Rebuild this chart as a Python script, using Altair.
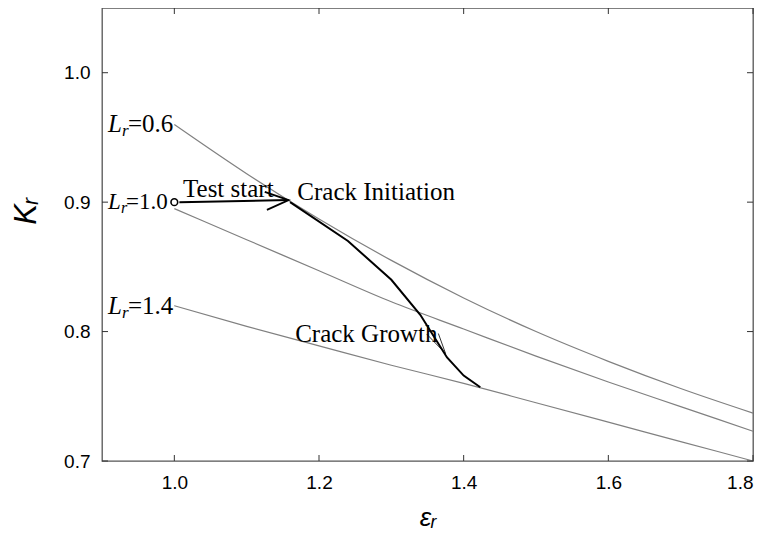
import altair as alt
import pandas as pd

# ---- data ----
x_grid = [1.0, 1.1, 1.2, 1.3, 1.4, 1.5, 1.6, 1.7, 1.8]
lr_06 = [0.960, 0.922, 0.887, 0.855, 0.826, 0.800, 0.777, 0.756, 0.737]
lr_10 = [0.895, 0.871, 0.847, 0.823, 0.802, 0.781, 0.761, 0.742, 0.723]
lr_14 = [0.820, 0.804, 0.789, 0.774, 0.760, 0.745, 0.730, 0.715, 0.700]

path_x = [1.16, 1.24, 1.30, 1.34, 1.377, 1.40, 1.423]
path_y = [0.900, 0.870, 0.840, 0.813, 0.780, 0.766, 0.757]

start_x = [1.0]
start_y = [0.9]
arrow_x = [1.007, 1.158]
arrow_y = [0.900, 0.9016]
head_x = [1.125, 1.158, 1.128]
head_y = [0.908, 0.9016, 0.894]
growth_head_x = [1.349, 1.375, 1.365]
growth_head_y = [0.798, 0.783, 0.7985]

curve_labels_a = ["=0.6", "=1.4"]
curve_label_y_a = [0.960, 0.820]
curve_labels_b = ["=1.0"]
curve_label_y_b = [0.900]

notes = ["Test start", "Crack Initiation", "Crack Growth"]
notes_x = [1.012, 1.170, 1.167]
notes_y = [0.910, 0.908, 0.798]

x_ticks = [1.0, 1.2, 1.4, 1.6, 1.8]
y_ticks = [0.7, 0.8, 0.9, 1.0]

W, H = 651, 453

curves = pd.DataFrame(
    [{"x": x, "y": y, "curve": name}
     for name, ys in (("0.6", lr_06), ("1.0", lr_10), ("1.4", lr_14))
     for x, y in zip(x_grid, ys)]
)
path = pd.DataFrame({"x": path_x, "y": path_y, "o": range(len(path_x))})
arrow = pd.DataFrame({"x": arrow_x, "y": arrow_y, "o": range(len(arrow_x))})
head = pd.DataFrame({"x": head_x, "y": head_y, "o": range(len(head_x))})
ghead = pd.DataFrame({"x": growth_head_x, "y": growth_head_y, "o": range(3)})
start = pd.DataFrame({"x": start_x, "y": start_y})
lab_a = pd.DataFrame({"t": curve_labels_a, "y": curve_label_y_a, "x": [0.9] * 2})
lab_b = pd.DataFrame({"t": curve_labels_b, "y": curve_label_y_b, "x": [0.9]})
nt = pd.DataFrame({"t": notes, "x": notes_x, "y": notes_y})
xt = pd.DataFrame({"v": x_ticks})
yt = pd.DataFrame({"v": y_ticks})

xs = alt.Scale(domain=[0.9, 1.8], nice=False, zero=False)
ys = alt.Scale(domain=[0.7, 1.05], nice=False, zero=False)

X = alt.X("x:Q", scale=xs, axis=alt.Axis(
    values=x_ticks, format=".1f", title="εᵣ", ticks=False, domain=False, grid=False,
    labelFont="Liberation Sans", labelFontSize=19, labelColor="black", labelPadding=12,
    titleFont="Liberation Sans", titleFontSize=26, titleFontStyle="italic",
    titleFontWeight="normal", titleColor="black", titleX=W / 2, titleY=56,
    titleBaseline="middle", titleAlign="center"))
Y = alt.Y("y:Q", scale=ys, axis=alt.Axis(
    values=y_ticks, format=".1f", title="Kᵣ", ticks=False, domain=False, grid=False,
    labelFont="Liberation Sans", labelFontSize=19, labelColor="black", labelPadding=12,
    titleFont="Liberation Sans", titleFontSize=31, titleFontStyle="italic",
    titleFontWeight="normal", titleColor="black", titleX=-76, titleY=203,
    titleBaseline="middle", titleAlign="center", titleAngle=270))

xq = alt.X("x:Q", scale=xs)
yq = alt.Y("y:Q", scale=ys)

base_curves = alt.Chart(curves).mark_line(color="#808080", strokeWidth=1.2, interpolate="monotone").encode(
    x=X, y=Y, detail="curve:N")
path_l = alt.Chart(path).mark_line(color="black", strokeWidth=2).encode(x=xq, y=yq, order="o:Q")
arrow_l = alt.Chart(arrow).mark_line(color="black", strokeWidth=2).encode(x=xq, y=yq, order="o:Q")
head_l = alt.Chart(head).mark_line(color="black", strokeWidth=1.8).encode(x=xq, y=yq, order="o:Q")
ghead_l = alt.Chart(ghead).mark_line(color="black", strokeWidth=0.8).encode(x=xq, y=yq, order="o:Q")
start_p = alt.Chart(start).mark_point(shape="circle", size=45, filled=True, fill="white",
                                      stroke="black", strokeWidth=1.6, opacity=1).encode(x=xq, y=yq)

serif = "Liberation Serif"


def curve_label(df, size, dx0):
    L = alt.Chart(df).mark_text(text="L", font=serif, fontSize=size, fontStyle="italic",
                                align="left", baseline="middle", dx=dx0, color="black").encode(x=xq, y=yq)
    r = alt.Chart(df).mark_text(text="r", font=serif, fontSize=round(size * 0.68), fontStyle="italic",
                                align="left", baseline="middle", dx=dx0 + round(size * 0.56),
                                dy=round(size * 0.28), color="black").encode(x=xq, y=yq)
    eq = alt.Chart(df).mark_text(font=serif, fontSize=size, align="left", baseline="middle",
                                 dx=dx0 + round(size * 0.8), color="black").encode(x=xq, y=yq, text="t:N")
    return [L, r, eq]


notes_t = alt.Chart(nt).mark_text(font=serif, fontSize=25, align="left", baseline="middle",
                                  color="black").encode(x=xq, y=yq, text="t:N")

tick_c = "#333333"
xt_b = alt.Chart(xt).mark_rule(color=tick_c, strokeWidth=1).encode(
    x=alt.X("v:Q", scale=xs), y=alt.value(H), y2=alt.value(H - 6))
xt_t = alt.Chart(xt).mark_rule(color=tick_c, strokeWidth=1).encode(
    x=alt.X("v:Q", scale=xs), y=alt.value(0), y2=alt.value(6))
yt_l = alt.Chart(yt).mark_rule(color=tick_c, strokeWidth=1).encode(
    y=alt.Y("v:Q", scale=ys), x=alt.value(0), x2=alt.value(6))
yt_r = alt.Chart(yt).mark_rule(color=tick_c, strokeWidth=1).encode(
    y=alt.Y("v:Q", scale=ys), x=alt.value(W), x2=alt.value(W - 6))

chart = alt.layer(
    base_curves, path_l, arrow_l, head_l, ghead_l,
    *curve_label(lab_a, 25, 6), *curve_label(lab_b, 23, 6), notes_t,
    start_p, xt_b, xt_t, yt_l, yt_r
).properties(
    width=W, height=H,
    autosize=alt.AutoSizeParams(type="none"),
    padding={"left": 94, "top": 0, "right": 8, "bottom": 72},
    background="white",
).configure_view(stroke="#555555", strokeWidth=1.3)

chart.save("out.html", embed_options={"renderer": "svg", "actions": False})
